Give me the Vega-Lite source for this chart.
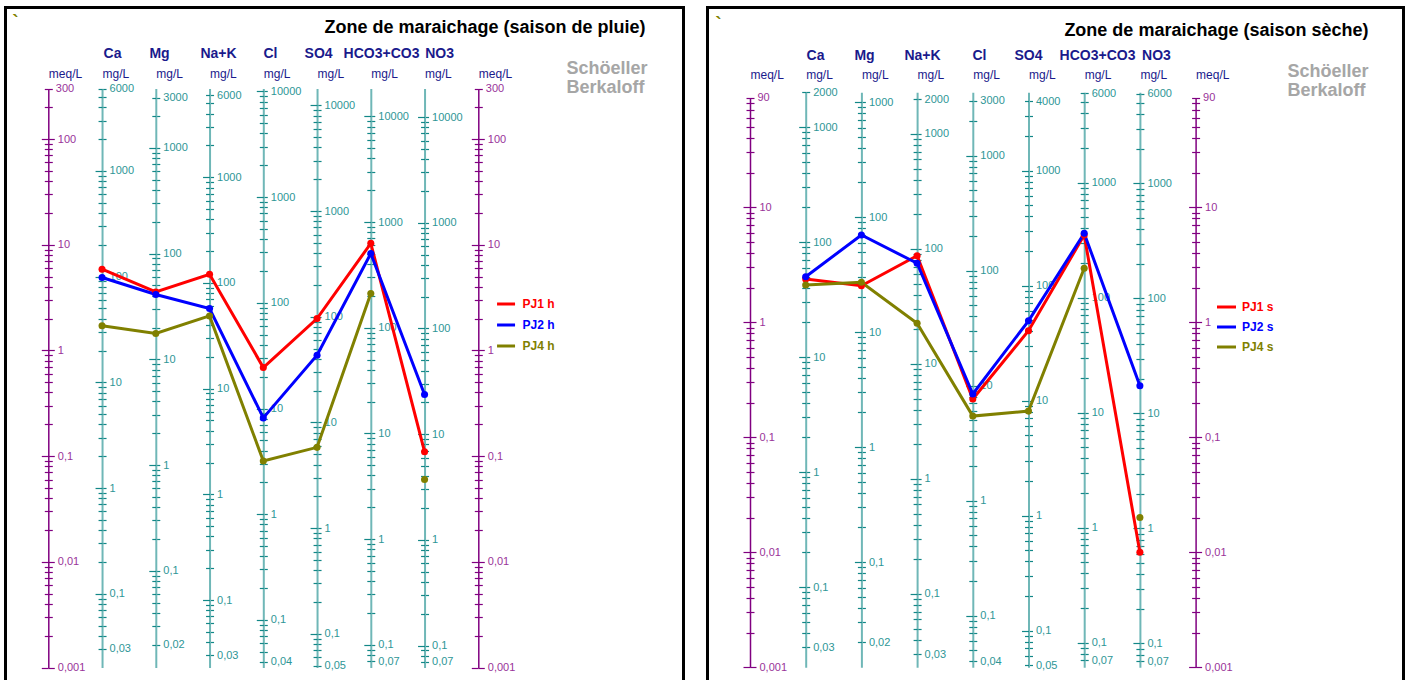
{
  "$schema": "https://vega.github.io/schema/vega-lite/v6.json",
  "width": 1408,
  "height": 680,
  "autosize": {"type": "none"},
  "padding": 0,
  "background": "white",
  "data": {"values": [{"k": 0}]},
  "datasets": {
    "pluie": [
      {"sample": "PJ1 h", "ion": "Ca", "meq": 5.87},
      {"sample": "PJ1 h", "ion": "Mg", "meq": 3.57},
      {"sample": "PJ1 h", "ion": "Na+K", "meq": 5.26},
      {"sample": "PJ1 h", "ion": "Cl", "meq": 0.689},
      {"sample": "PJ1 h", "ion": "SO4", "meq": 2.0},
      {"sample": "PJ1 h", "ion": "HCO3+CO3", "meq": 10.3},
      {"sample": "PJ1 h", "ion": "NO3", "meq": 0.11},
      {"sample": "PJ2 h", "ion": "Ca", "meq": 4.9},
      {"sample": "PJ2 h", "ion": "Mg", "meq": 3.38},
      {"sample": "PJ2 h", "ion": "Na+K", "meq": 2.49},
      {"sample": "PJ2 h", "ion": "Cl", "meq": 0.23},
      {"sample": "PJ2 h", "ion": "SO4", "meq": 0.9},
      {"sample": "PJ2 h", "ion": "HCO3+CO3", "meq": 8.26},
      {"sample": "PJ2 h", "ion": "NO3", "meq": 0.383},
      {"sample": "PJ4 h", "ion": "Ca", "meq": 1.71},
      {"sample": "PJ4 h", "ion": "Mg", "meq": 1.445},
      {"sample": "PJ4 h", "ion": "Na+K", "meq": 2.12},
      {"sample": "PJ4 h", "ion": "Cl", "meq": 0.09},
      {"sample": "PJ4 h", "ion": "SO4", "meq": 0.121},
      {"sample": "PJ4 h", "ion": "HCO3+CO3", "meq": 3.45},
      {"sample": "PJ4 h", "ion": "NO3", "meq": 0.06}
    ],
    "seche": [
      {"sample": "PJ1 s", "ion": "Ca", "meq": 2.38},
      {"sample": "PJ1 s", "ion": "Mg", "meq": 2.08},
      {"sample": "PJ1 s", "ion": "Na+K", "meq": 3.79},
      {"sample": "PJ1 s", "ion": "Cl", "meq": 0.215},
      {"sample": "PJ1 s", "ion": "SO4", "meq": 0.845},
      {"sample": "PJ1 s", "ion": "HCO3+CO3", "meq": 5.74},
      {"sample": "PJ1 s", "ion": "NO3", "meq": 0.01},
      {"sample": "PJ2 s", "ion": "Ca", "meq": 2.49},
      {"sample": "PJ2 s", "ion": "Mg", "meq": 5.74},
      {"sample": "PJ2 s", "ion": "Na+K", "meq": 3.26},
      {"sample": "PJ2 s", "ion": "Cl", "meq": 0.238},
      {"sample": "PJ2 s", "ion": "SO4", "meq": 1.03},
      {"sample": "PJ2 s", "ion": "HCO3+CO3", "meq": 5.94},
      {"sample": "PJ2 s", "ion": "NO3", "meq": 0.281},
      {"sample": "PJ4 s", "ion": "Ca", "meq": 2.11},
      {"sample": "PJ4 s", "ion": "Mg", "meq": 2.23},
      {"sample": "PJ4 s", "ion": "Na+K", "meq": 0.98},
      {"sample": "PJ4 s", "ion": "Cl", "meq": 0.153},
      {"sample": "PJ4 s", "ion": "SO4", "meq": 0.169},
      {"sample": "PJ4 s", "ion": "HCO3+CO3", "meq": 2.95},
      {"sample": "PJ4 s", "ion": "NO3", "meq": 0.0201}
    ]
  },
  "resolve": {"scale": {"x": "independent", "y": "independent", "color": "independent"}},
  "layer": [
    {"mark": {"type": "point", "opacity": 0}, "encoding": {
      "x": {"datum": 0, "type": "quantitative", "scale": {"domain": [0, 1], "range": [3.5, 684.5]}, "axis": {"orient": "top", "offset": -7, "domainColor": "#000000", "domainWidth": 3, "ticks": false, "labels": false, "title": "Zone de maraichage (saison de pluie)", "titleX": 645, "titleY": 20, "titleAlign": "right", "titleBaseline": "middle", "titleFontSize": 18, "titleFontWeight": "bold", "titleColor": "#000000"}},
      "y": {"datum": 0, "type": "quantitative", "scale": {"domain": [0, 1], "range": [5.5, 700]}, "axis": {"orient": "left", "offset": -5, "domainColor": "#000000", "domainWidth": 3, "ticks": false, "labels": false, "title": "`", "titleX": 10, "titleY": 22, "titleAlign": "center", "titleBaseline": "middle", "titleFontSize": 18, "titleFontWeight": "bold", "titleColor": "#808000"}}}},
    {"mark": {"type": "point", "opacity": 0}, "encoding": {
      "y": {"datum": 0, "type": "quantitative", "scale": {"domain": [0, 1], "range": [5.5, 700]}, "axis": {"orient": "left", "offset": -683, "domainColor": "#000000", "domainWidth": 3, "ticks": false, "labels": false, "title": ["Schöeller", "Berkaloff"], "titleX": -117, "titleY": 68, "titleAlign": "left", "titleBaseline": "middle", "titleLineHeight": 19, "titleFontSize": 18, "titleFontWeight": "bold", "titleColor": "#a6a6a6"}}}},
    {"mark": {"type": "point", "opacity": 0}, "encoding": {
      "x": {"datum": 0, "type": "quantitative", "scale": {"domain": [0, 1], "range": [705.5, 1404.5]}, "axis": {"orient": "top", "offset": -7, "domainColor": "#000000", "domainWidth": 3, "ticks": false, "labels": false, "title": "Zone de maraichage (saison sèche)", "titleX": 1368, "titleY": 23, "titleAlign": "right", "titleBaseline": "middle", "titleFontSize": 18, "titleFontWeight": "bold", "titleColor": "#000000"}},
      "y": {"datum": 0, "type": "quantitative", "scale": {"domain": [0, 1], "range": [5.5, 700]}, "axis": {"orient": "left", "offset": -707, "domainColor": "#000000", "domainWidth": 3, "ticks": false, "labels": false, "title": "`", "titleX": 11, "titleY": 24, "titleAlign": "center", "titleBaseline": "middle", "titleFontSize": 18, "titleFontWeight": "bold", "titleColor": "#808000"}}}},
    {"mark": {"type": "point", "opacity": 0}, "encoding": {
      "y": {"datum": 0, "type": "quantitative", "scale": {"domain": [0, 1], "range": [5.5, 700]}, "axis": {"orient": "left", "offset": -1403, "domainColor": "#000000", "domainWidth": 3, "ticks": false, "labels": false, "title": ["Schöeller", "Berkaloff"], "titleX": -116, "titleY": 71, "titleAlign": "left", "titleBaseline": "middle", "titleLineHeight": 19, "titleFontSize": 18, "titleFontWeight": "bold", "titleColor": "#a6a6a6"}}}},

    {"mark": {"type": "point", "opacity": 0}, "encoding": {"y": {"datum": 1, "type": "quantitative", "scale": {"type": "log", "domain": [0.001, 300], "range": [667.5, 88.6]}, "axis": {"orient": "right", "offset": -1359.7, "domainColor": "#800080", "domainWidth": 1.5, "tickColor": "#800080", "tickSize": {"condition": {"test": "abs(log(datum.value)/LN10 - round(log(datum.value)/LN10)) < 0.000001", "value": 6}, "value": 4}, "tickWidth": 1.2, "labelColor": "#993399", "labelPadding": 3, "labelExpr": "indexof([300,100,10,1,0.1,0.01,0.001], datum.value) >= 0 ? replace(toString(datum.value), '.', ',') : ''", "title": "meq/L", "titleX": 0, "titleY": 73, "titleAlign": "left", "titleColor": "#1a1a8c", "titleFontWeight": "normal"}}}},
    {"mark": {"type": "point", "opacity": 0}, "encoding": {"y": {"datum": 1, "type": "quantitative", "scale": {"type": "log", "domain": [0.001, 300], "range": [667.5, 88.6]}, "axis": {"orient": "left", "offset": -48.3, "domain": false, "labels": false, "tickColor": "#800080", "tickSize": {"condition": {"test": "abs(log(datum.value)/LN10 - round(log(datum.value)/LN10)) < 0.000001", "value": 7}, "value": 4}, "tickWidth": 1.2, "title": null}}}},
    {"mark": {"type": "point", "opacity": 0}, "encoding": {"y": {"datum": 1, "type": "quantitative", "scale": {"type": "log", "domain": [0.02004, 6012], "range": [667.5, 88.6]}, "axis": {"orient": "right", "offset": -1305.95, "domainColor": "#6fb7b7", "domainWidth": 2, "tickColor": "#128787", "tickSize": 4, "tickWidth": 1.2, "labelColor": "#2e9696", "labelPadding": 3, "labelExpr": "indexof([6000,1000,100,10,1,0.1,0.03], datum.value) >= 0 ? replace(toString(datum.value), '.', ',') : ''", "title": "mg/L", "titleX": 0, "titleY": 73, "titleAlign": "left", "titleColor": "#1a1a8c", "titleFontWeight": "normal"}}}},
    {"mark": {"type": "point", "opacity": 0}, "encoding": {"y": {"datum": 1, "type": "quantitative", "scale": {"type": "log", "domain": [0.02004, 6012], "range": [667.5, 88.6]}, "axis": {"orient": "left", "offset": -102.05, "domain": false, "labels": false, "tickColor": "#128787", "tickSize": {"condition": {"test": "abs(log(datum.value)/LN10 - round(log(datum.value)/LN10)) < 0.000001", "value": 7}, "value": 4}, "tickWidth": 1.2, "title": "Ca", "titleX": 10, "titleY": 53, "titleAlign": "center", "titleColor": "#1a1a8c", "titleFontWeight": "bold", "titleFontSize": 14}}}},
    {"mark": {"type": "point", "opacity": 0}, "encoding": {"y": {"datum": 1, "type": "quantitative", "scale": {"type": "log", "domain": [0.01215, 3645], "range": [667.5, 88.6]}, "axis": {"orient": "right", "offset": -1252.2, "domainColor": "#6fb7b7", "domainWidth": 2, "tickColor": "#128787", "tickSize": 4, "tickWidth": 1.2, "labelColor": "#2e9696", "labelPadding": 3, "labelExpr": "indexof([3000,1000,100,10,1,0.1,0.02], datum.value) >= 0 ? replace(toString(datum.value), '.', ',') : ''", "title": "mg/L", "titleX": 0, "titleY": 73, "titleAlign": "left", "titleColor": "#1a1a8c", "titleFontWeight": "normal"}}}},
    {"mark": {"type": "point", "opacity": 0}, "encoding": {"y": {"datum": 1, "type": "quantitative", "scale": {"type": "log", "domain": [0.01215, 3645], "range": [667.5, 88.6]}, "axis": {"orient": "left", "offset": -155.8, "domain": false, "labels": false, "tickColor": "#128787", "tickSize": {"condition": {"test": "abs(log(datum.value)/LN10 - round(log(datum.value)/LN10)) < 0.000001", "value": 7}, "value": 4}, "tickWidth": 1.2, "title": "Mg", "titleX": 3.2, "titleY": 53, "titleAlign": "center", "titleColor": "#1a1a8c", "titleFontWeight": "bold", "titleFontSize": 14}}}},
    {"mark": {"type": "point", "opacity": 0}, "encoding": {"y": {"datum": 1, "type": "quantitative", "scale": {"type": "log", "domain": [0.023, 6900], "range": [667.5, 88.6]}, "axis": {"orient": "right", "offset": -1198.45, "domainColor": "#6fb7b7", "domainWidth": 2, "tickColor": "#128787", "tickSize": 4, "tickWidth": 1.2, "labelColor": "#2e9696", "labelPadding": 3, "labelExpr": "indexof([6000,1000,100,10,1,0.1,0.03], datum.value) >= 0 ? replace(toString(datum.value), '.', ',') : ''", "title": "mg/L", "titleX": 0, "titleY": 73, "titleAlign": "left", "titleColor": "#1a1a8c", "titleFontWeight": "normal"}}}},
    {"mark": {"type": "point", "opacity": 0}, "encoding": {"y": {"datum": 1, "type": "quantitative", "scale": {"type": "log", "domain": [0.023, 6900], "range": [667.5, 88.6]}, "axis": {"orient": "left", "offset": -209.55, "domain": false, "labels": false, "tickColor": "#128787", "tickSize": {"condition": {"test": "abs(log(datum.value)/LN10 - round(log(datum.value)/LN10)) < 0.000001", "value": 7}, "value": 4}, "tickWidth": 1.2, "title": "Na+K", "titleX": 8.5, "titleY": 53, "titleAlign": "center", "titleColor": "#1a1a8c", "titleFontWeight": "bold", "titleFontSize": 14}}}},
    {"mark": {"type": "point", "opacity": 0}, "encoding": {"y": {"datum": 1, "type": "quantitative", "scale": {"type": "log", "domain": [0.03545, 10635], "range": [667.5, 88.6]}, "axis": {"orient": "right", "offset": -1144.7, "domainColor": "#6fb7b7", "domainWidth": 2, "tickColor": "#128787", "tickSize": 4, "tickWidth": 1.2, "labelColor": "#2e9696", "labelPadding": 3, "labelExpr": "indexof([10000,1000,100,10,1,0.1,0.04], datum.value) >= 0 ? replace(toString(datum.value), '.', ',') : ''", "title": "mg/L", "titleX": 0, "titleY": 73, "titleAlign": "left", "titleColor": "#1a1a8c", "titleFontWeight": "normal"}}}},
    {"mark": {"type": "point", "opacity": 0}, "encoding": {"y": {"datum": 1, "type": "quantitative", "scale": {"type": "log", "domain": [0.03545, 10635], "range": [667.5, 88.6]}, "axis": {"orient": "left", "offset": -263.3, "domain": false, "labels": false, "tickColor": "#128787", "tickSize": {"condition": {"test": "abs(log(datum.value)/LN10 - round(log(datum.value)/LN10)) < 0.000001", "value": 7}, "value": 4}, "tickWidth": 1.2, "title": "Cl", "titleX": 6.7, "titleY": 53, "titleAlign": "center", "titleColor": "#1a1a8c", "titleFontWeight": "bold", "titleFontSize": 14}}}},
    {"mark": {"type": "point", "opacity": 0}, "encoding": {"y": {"datum": 1, "type": "quantitative", "scale": {"type": "log", "domain": [0.04803, 14409], "range": [667.5, 88.6]}, "axis": {"orient": "right", "offset": -1090.95, "domainColor": "#6fb7b7", "domainWidth": 2, "tickColor": "#128787", "tickSize": 4, "tickWidth": 1.2, "labelColor": "#2e9696", "labelPadding": 3, "labelExpr": "indexof([10000,1000,100,10,1,0.1,0.05], datum.value) >= 0 ? replace(toString(datum.value), '.', ',') : ''", "title": "mg/L", "titleX": 0, "titleY": 73, "titleAlign": "left", "titleColor": "#1a1a8c", "titleFontWeight": "normal"}}}},
    {"mark": {"type": "point", "opacity": 0}, "encoding": {"y": {"datum": 1, "type": "quantitative", "scale": {"type": "log", "domain": [0.04803, 14409], "range": [667.5, 88.6]}, "axis": {"orient": "left", "offset": -317.05, "domain": false, "labels": false, "tickColor": "#128787", "tickSize": {"condition": {"test": "abs(log(datum.value)/LN10 - round(log(datum.value)/LN10)) < 0.000001", "value": 7}, "value": 4}, "tickWidth": 1.2, "title": "SO4", "titleX": 1, "titleY": 53, "titleAlign": "center", "titleColor": "#1a1a8c", "titleFontWeight": "bold", "titleFontSize": 14}}}},
    {"mark": {"type": "point", "opacity": 0}, "encoding": {"y": {"datum": 1, "type": "quantitative", "scale": {"type": "log", "domain": [0.06102, 18306], "range": [667.5, 88.6]}, "axis": {"orient": "right", "offset": -1037.2, "domainColor": "#6fb7b7", "domainWidth": 2, "tickColor": "#128787", "tickSize": 4, "tickWidth": 1.2, "labelColor": "#2e9696", "labelPadding": 3, "labelExpr": "indexof([10000,1000,100,10,1,0.1,0.07], datum.value) >= 0 ? replace(toString(datum.value), '.', ',') : ''", "title": "mg/L", "titleX": 0, "titleY": 73, "titleAlign": "left", "titleColor": "#1a1a8c", "titleFontWeight": "normal"}}}},
    {"mark": {"type": "point", "opacity": 0}, "encoding": {"y": {"datum": 1, "type": "quantitative", "scale": {"type": "log", "domain": [0.06102, 18306], "range": [667.5, 88.6]}, "axis": {"orient": "left", "offset": -370.8, "domain": false, "labels": false, "tickColor": "#128787", "tickSize": {"condition": {"test": "abs(log(datum.value)/LN10 - round(log(datum.value)/LN10)) < 0.000001", "value": 7}, "value": 4}, "tickWidth": 1.2, "title": "HCO3+CO3", "titleX": 10.2, "titleY": 53, "titleAlign": "center", "titleColor": "#1a1a8c", "titleFontWeight": "bold", "titleFontSize": 14}}}},
    {"mark": {"type": "point", "opacity": 0}, "encoding": {"y": {"datum": 1, "type": "quantitative", "scale": {"type": "log", "domain": [0.062, 18600], "range": [667.5, 88.6]}, "axis": {"orient": "right", "offset": -983.45, "domainColor": "#6fb7b7", "domainWidth": 2, "tickColor": "#128787", "tickSize": 4, "tickWidth": 1.2, "labelColor": "#2e9696", "labelPadding": 3, "labelExpr": "indexof([10000,1000,100,10,1,0.1,0.07], datum.value) >= 0 ? replace(toString(datum.value), '.', ',') : ''", "title": "mg/L", "titleX": 0, "titleY": 73, "titleAlign": "left", "titleColor": "#1a1a8c", "titleFontWeight": "normal"}}}},
    {"mark": {"type": "point", "opacity": 0}, "encoding": {"y": {"datum": 1, "type": "quantitative", "scale": {"type": "log", "domain": [0.062, 18600], "range": [667.5, 88.6]}, "axis": {"orient": "left", "offset": -424.55, "domain": false, "labels": false, "tickColor": "#128787", "tickSize": {"condition": {"test": "abs(log(datum.value)/LN10 - round(log(datum.value)/LN10)) < 0.000001", "value": 7}, "value": 4}, "tickWidth": 1.2, "title": "NO3", "titleX": 14.5, "titleY": 53, "titleAlign": "center", "titleColor": "#1a1a8c", "titleFontWeight": "bold", "titleFontSize": 14}}}},
    {"mark": {"type": "point", "opacity": 0}, "encoding": {"y": {"datum": 1, "type": "quantitative", "scale": {"type": "log", "domain": [0.001, 300], "range": [667.5, 88.6]}, "axis": {"orient": "right", "offset": -929.7, "domainColor": "#800080", "domainWidth": 1.5, "tickColor": "#800080", "tickSize": {"condition": {"test": "abs(log(datum.value)/LN10 - round(log(datum.value)/LN10)) < 0.000001", "value": 6}, "value": 4}, "tickWidth": 1.2, "labelColor": "#993399", "labelPadding": 3, "labelExpr": "indexof([300,100,10,1,0.1,0.01,0.001], datum.value) >= 0 ? replace(toString(datum.value), '.', ',') : ''", "title": "meq/L", "titleX": 0, "titleY": 73, "titleAlign": "left", "titleColor": "#1a1a8c", "titleFontWeight": "normal"}}}},
    {"mark": {"type": "point", "opacity": 0}, "encoding": {"y": {"datum": 1, "type": "quantitative", "scale": {"type": "log", "domain": [0.001, 300], "range": [667.5, 88.6]}, "axis": {"orient": "left", "offset": -478.3, "domain": false, "labels": false, "tickColor": "#800080", "tickSize": {"condition": {"test": "abs(log(datum.value)/LN10 - round(log(datum.value)/LN10)) < 0.000001", "value": 7}, "value": 4}, "tickWidth": 1.2, "title": null}}}},

    {"mark": {"type": "point", "opacity": 0}, "encoding": {"y": {"datum": 1, "type": "quantitative", "scale": {"type": "log", "domain": [0.001, 90], "range": [667.3, 97.6]}, "axis": {"orient": "right", "offset": -658, "domainColor": "#800080", "domainWidth": 1.5, "tickColor": "#800080", "tickSize": {"condition": {"test": "abs(log(datum.value)/LN10 - round(log(datum.value)/LN10)) < 0.000001", "value": 6}, "value": 4}, "tickWidth": 1.2, "labelColor": "#993399", "labelPadding": 3, "labelExpr": "indexof([90,10,1,0.1,0.01,0.001], datum.value) >= 0 ? replace(toString(datum.value), '.', ',') : ''", "title": "meq/L", "titleX": 0, "titleY": 74, "titleAlign": "left", "titleColor": "#1a1a8c", "titleFontWeight": "normal"}}}},
    {"mark": {"type": "point", "opacity": 0}, "encoding": {"y": {"datum": 1, "type": "quantitative", "scale": {"type": "log", "domain": [0.001, 90], "range": [667.3, 97.6]}, "axis": {"orient": "left", "offset": -750, "domain": false, "labels": false, "tickColor": "#800080", "tickSize": {"condition": {"test": "abs(log(datum.value)/LN10 - round(log(datum.value)/LN10)) < 0.000001", "value": 7}, "value": 4}, "tickWidth": 1.2, "title": null}}}},
    {"mark": {"type": "point", "opacity": 0}, "encoding": {"y": {"datum": 1, "type": "quantitative", "scale": {"type": "log", "domain": [0.02004, 2004], "range": [667.3, 92.3]}, "axis": {"orient": "right", "offset": -602.3, "domainColor": "#6fb7b7", "domainWidth": 2, "tickColor": "#128787", "tickSize": 4, "tickWidth": 1.2, "labelColor": "#2e9696", "labelPadding": 3, "labelExpr": "indexof([2000,1000,100,10,1,0.1,0.03], datum.value) >= 0 ? replace(toString(datum.value), '.', ',') : ''", "title": "mg/L", "titleX": 0, "titleY": 74, "titleAlign": "left", "titleColor": "#1a1a8c", "titleFontWeight": "normal"}}}},
    {"mark": {"type": "point", "opacity": 0}, "encoding": {"y": {"datum": 1, "type": "quantitative", "scale": {"type": "log", "domain": [0.02004, 2004], "range": [667.3, 92.3]}, "axis": {"orient": "left", "offset": -805.7, "domain": false, "labels": false, "tickColor": "#128787", "tickSize": {"condition": {"test": "abs(log(datum.value)/LN10 - round(log(datum.value)/LN10)) < 0.000001", "value": 7}, "value": 4}, "tickWidth": 1.2, "title": "Ca", "titleX": 9.3, "titleY": 55, "titleAlign": "center", "titleColor": "#1a1a8c", "titleFontWeight": "bold", "titleFontSize": 14}}}},
    {"mark": {"type": "point", "opacity": 0}, "encoding": {"y": {"datum": 1, "type": "quantitative", "scale": {"type": "log", "domain": [0.01215, 1215], "range": [667.3, 92.3]}, "axis": {"orient": "right", "offset": -546.6, "domainColor": "#6fb7b7", "domainWidth": 2, "tickColor": "#128787", "tickSize": 4, "tickWidth": 1.2, "labelColor": "#2e9696", "labelPadding": 3, "labelExpr": "indexof([1000,100,10,1,0.1,0.02], datum.value) >= 0 ? replace(toString(datum.value), '.', ',') : ''", "title": "mg/L", "titleX": 0, "titleY": 74, "titleAlign": "left", "titleColor": "#1a1a8c", "titleFontWeight": "normal"}}}},
    {"mark": {"type": "point", "opacity": 0}, "encoding": {"y": {"datum": 1, "type": "quantitative", "scale": {"type": "log", "domain": [0.01215, 1215], "range": [667.3, 92.3]}, "axis": {"orient": "left", "offset": -861.4, "domain": false, "labels": false, "tickColor": "#128787", "tickSize": {"condition": {"test": "abs(log(datum.value)/LN10 - round(log(datum.value)/LN10)) < 0.000001", "value": 7}, "value": 4}, "tickWidth": 1.2, "title": "Mg", "titleX": 2.6, "titleY": 55, "titleAlign": "center", "titleColor": "#1a1a8c", "titleFontWeight": "bold", "titleFontSize": 14}}}},
    {"mark": {"type": "point", "opacity": 0}, "encoding": {"y": {"datum": 1, "type": "quantitative", "scale": {"type": "log", "domain": [0.023, 2300], "range": [667.3, 92.3]}, "axis": {"orient": "right", "offset": -490.9, "domainColor": "#6fb7b7", "domainWidth": 2, "tickColor": "#128787", "tickSize": 4, "tickWidth": 1.2, "labelColor": "#2e9696", "labelPadding": 3, "labelExpr": "indexof([2000,1000,100,10,1,0.1,0.03], datum.value) >= 0 ? replace(toString(datum.value), '.', ',') : ''", "title": "mg/L", "titleX": 0, "titleY": 74, "titleAlign": "left", "titleColor": "#1a1a8c", "titleFontWeight": "normal"}}}},
    {"mark": {"type": "point", "opacity": 0}, "encoding": {"y": {"datum": 1, "type": "quantitative", "scale": {"type": "log", "domain": [0.023, 2300], "range": [667.3, 92.3]}, "axis": {"orient": "left", "offset": -917.1, "domain": false, "labels": false, "tickColor": "#128787", "tickSize": {"condition": {"test": "abs(log(datum.value)/LN10 - round(log(datum.value)/LN10)) < 0.000001", "value": 7}, "value": 4}, "tickWidth": 1.2, "title": "Na+K", "titleX": 4.9, "titleY": 55, "titleAlign": "center", "titleColor": "#1a1a8c", "titleFontWeight": "bold", "titleFontSize": 14}}}},
    {"mark": {"type": "point", "opacity": 0}, "encoding": {"y": {"datum": 1, "type": "quantitative", "scale": {"type": "log", "domain": [0.03545, 3545], "range": [667.3, 92.3]}, "axis": {"orient": "right", "offset": -435.2, "domainColor": "#6fb7b7", "domainWidth": 2, "tickColor": "#128787", "tickSize": 4, "tickWidth": 1.2, "labelColor": "#2e9696", "labelPadding": 3, "labelExpr": "indexof([3000,1000,100,10,1,0.1,0.04], datum.value) >= 0 ? replace(toString(datum.value), '.', ',') : ''", "title": "mg/L", "titleX": 0, "titleY": 74, "titleAlign": "left", "titleColor": "#1a1a8c", "titleFontWeight": "normal"}}}},
    {"mark": {"type": "point", "opacity": 0}, "encoding": {"y": {"datum": 1, "type": "quantitative", "scale": {"type": "log", "domain": [0.03545, 3545], "range": [667.3, 92.3]}, "axis": {"orient": "left", "offset": -972.8, "domain": false, "labels": false, "tickColor": "#128787", "tickSize": {"condition": {"test": "abs(log(datum.value)/LN10 - round(log(datum.value)/LN10)) < 0.000001", "value": 7}, "value": 4}, "tickWidth": 1.2, "title": "Cl", "titleX": 6.2, "titleY": 55, "titleAlign": "center", "titleColor": "#1a1a8c", "titleFontWeight": "bold", "titleFontSize": 14}}}},
    {"mark": {"type": "point", "opacity": 0}, "encoding": {"y": {"datum": 1, "type": "quantitative", "scale": {"type": "log", "domain": [0.04803, 4803], "range": [667.3, 92.3]}, "axis": {"orient": "right", "offset": -379.5, "domainColor": "#6fb7b7", "domainWidth": 2, "tickColor": "#128787", "tickSize": 4, "tickWidth": 1.2, "labelColor": "#2e9696", "labelPadding": 3, "labelExpr": "indexof([4000,1000,100,10,1,0.1,0.05], datum.value) >= 0 ? replace(toString(datum.value), '.', ',') : ''", "title": "mg/L", "titleX": 0, "titleY": 74, "titleAlign": "left", "titleColor": "#1a1a8c", "titleFontWeight": "normal"}}}},
    {"mark": {"type": "point", "opacity": 0}, "encoding": {"y": {"datum": 1, "type": "quantitative", "scale": {"type": "log", "domain": [0.04803, 4803], "range": [667.3, 92.3]}, "axis": {"orient": "left", "offset": -1028.5, "domain": false, "labels": false, "tickColor": "#128787", "tickSize": {"condition": {"test": "abs(log(datum.value)/LN10 - round(log(datum.value)/LN10)) < 0.000001", "value": 7}, "value": 4}, "tickWidth": 1.2, "title": "SO4", "titleX": -0.5, "titleY": 55, "titleAlign": "center", "titleColor": "#1a1a8c", "titleFontWeight": "bold", "titleFontSize": 14}}}},
    {"mark": {"type": "point", "opacity": 0}, "encoding": {"y": {"datum": 1, "type": "quantitative", "scale": {"type": "log", "domain": [0.06102, 6102], "range": [667.3, 92.3]}, "axis": {"orient": "right", "offset": -323.8, "domainColor": "#6fb7b7", "domainWidth": 2, "tickColor": "#128787", "tickSize": 4, "tickWidth": 1.2, "labelColor": "#2e9696", "labelPadding": 3, "labelExpr": "indexof([6000,1000,100,10,1,0.1,0.07], datum.value) >= 0 ? replace(toString(datum.value), '.', ',') : ''", "title": "mg/L", "titleX": 0, "titleY": 74, "titleAlign": "left", "titleColor": "#1a1a8c", "titleFontWeight": "normal"}}}},
    {"mark": {"type": "point", "opacity": 0}, "encoding": {"y": {"datum": 1, "type": "quantitative", "scale": {"type": "log", "domain": [0.06102, 6102], "range": [667.3, 92.3]}, "axis": {"orient": "left", "offset": -1084.2, "domain": false, "labels": false, "tickColor": "#128787", "tickSize": {"condition": {"test": "abs(log(datum.value)/LN10 - round(log(datum.value)/LN10)) < 0.000001", "value": 7}, "value": 4}, "tickWidth": 1.2, "title": "HCO3+CO3", "titleX": 12.8, "titleY": 55, "titleAlign": "center", "titleColor": "#1a1a8c", "titleFontWeight": "bold", "titleFontSize": 14}}}},
    {"mark": {"type": "point", "opacity": 0}, "encoding": {"y": {"datum": 1, "type": "quantitative", "scale": {"type": "log", "domain": [0.062, 6200], "range": [667.3, 92.3]}, "axis": {"orient": "right", "offset": -268.1, "domainColor": "#6fb7b7", "domainWidth": 2, "tickColor": "#128787", "tickSize": 4, "tickWidth": 1.2, "labelColor": "#2e9696", "labelPadding": 3, "labelExpr": "indexof([6000,1000,100,10,1,0.1,0.07], datum.value) >= 0 ? replace(toString(datum.value), '.', ',') : ''", "title": "mg/L", "titleX": 0, "titleY": 74, "titleAlign": "left", "titleColor": "#1a1a8c", "titleFontWeight": "normal"}}}},
    {"mark": {"type": "point", "opacity": 0}, "encoding": {"y": {"datum": 1, "type": "quantitative", "scale": {"type": "log", "domain": [0.062, 6200], "range": [667.3, 92.3]}, "axis": {"orient": "left", "offset": -1139.9, "domain": false, "labels": false, "tickColor": "#128787", "tickSize": {"condition": {"test": "abs(log(datum.value)/LN10 - round(log(datum.value)/LN10)) < 0.000001", "value": 7}, "value": 4}, "tickWidth": 1.2, "title": "NO3", "titleX": 16.1, "titleY": 55, "titleAlign": "center", "titleColor": "#1a1a8c", "titleFontWeight": "bold", "titleFontSize": 14}}}},
    {"mark": {"type": "point", "opacity": 0}, "encoding": {"y": {"datum": 1, "type": "quantitative", "scale": {"type": "log", "domain": [0.001, 90], "range": [667.3, 97.6]}, "axis": {"orient": "right", "offset": -212.4, "domainColor": "#800080", "domainWidth": 1.5, "tickColor": "#800080", "tickSize": {"condition": {"test": "abs(log(datum.value)/LN10 - round(log(datum.value)/LN10)) < 0.000001", "value": 6}, "value": 4}, "tickWidth": 1.2, "labelColor": "#993399", "labelPadding": 3, "labelExpr": "indexof([90,10,1,0.1,0.01,0.001], datum.value) >= 0 ? replace(toString(datum.value), '.', ',') : ''", "title": "meq/L", "titleX": 0, "titleY": 74, "titleAlign": "left", "titleColor": "#1a1a8c", "titleFontWeight": "normal"}}}},
    {"mark": {"type": "point", "opacity": 0}, "encoding": {"y": {"datum": 1, "type": "quantitative", "scale": {"type": "log", "domain": [0.001, 90], "range": [667.3, 97.6]}, "axis": {"orient": "left", "offset": -1195.6, "domain": false, "labels": false, "tickColor": "#800080", "tickSize": {"condition": {"test": "abs(log(datum.value)/LN10 - round(log(datum.value)/LN10)) < 0.000001", "value": 7}, "value": 4}, "tickWidth": 1.2, "title": null}}}},

    {
      "data": {"name": "pluie"},
      "transform": [{"filter": "!(datum.sample === 'PJ4 h' && datum.ion === 'NO3')"}],
      "mark": {"type": "line", "strokeWidth": 3},
      "encoding": {
        "x": {"field": "ion", "type": "nominal", "scale": {"type": "point", "domain": ["meqL", "Ca", "Mg", "Na+K", "Cl", "SO4", "HCO3+CO3", "NO3", "meqR", "leg"], "range": [48.3, 532.05], "padding": 0}, "axis": null},
        "y": {"field": "meq", "type": "quantitative", "scale": {"type": "log", "domain": [0.001, 300], "range": [667.5, 88.6]}, "axis": null},
        "color": {"field": "sample", "type": "nominal", "scale": {"domain": ["PJ1 h", "PJ2 h", "PJ4 h"], "range": ["#ff0000", "#0000ff", "#808000"]}, "legend": null},
        "order": {"value": null}
      }
    },
    {
      "data": {"name": "pluie"},
      "mark": {"type": "point", "filled": true, "size": 50, "opacity": 1},
      "encoding": {
        "x": {"field": "ion", "type": "nominal", "scale": {"type": "point", "domain": ["meqL", "Ca", "Mg", "Na+K", "Cl", "SO4", "HCO3+CO3", "NO3", "meqR", "leg"], "range": [48.3, 532.05], "padding": 0}, "axis": null},
        "y": {"field": "meq", "type": "quantitative", "scale": {"type": "log", "domain": [0.001, 300], "range": [667.5, 88.6]}, "axis": null},
        "color": {"field": "sample", "type": "nominal", "scale": {"domain": ["PJ1 h", "PJ2 h", "PJ4 h"], "range": ["#ff0000", "#0000ff", "#808000"]}, "legend": null}
      }
    },
    {
      "data": {"name": "pluie"},
      "transform": [{"aggregate": [{"op": "count", "as": "n"}], "groupby": ["sample"]}],
      "mark": {"type": "point", "shape": "M-1,0L1,0", "size": 324, "strokeWidth": 3, "filled": false, "opacity": 1, "xOffset": -26},
      "encoding": {
        "x": {"datum": "leg", "type": "nominal", "scale": {"type": "point", "domain": ["meqL", "Ca", "Mg", "Na+K", "Cl", "SO4", "HCO3+CO3", "NO3", "meqR", "leg"], "range": [48.3, 532.05], "padding": 0}, "axis": null},
        "y": {"field": "sample", "type": "nominal", "scale": {"type": "point", "domain": ["PJ1 h", "PJ2 h", "PJ4 h"], "range": [304, 346], "padding": 0}, "axis": null},
        "color": {"field": "sample", "type": "nominal", "scale": {"domain": ["PJ1 h", "PJ2 h", "PJ4 h"], "range": ["#ff0000", "#0000ff", "#808000"]}, "legend": null}
      }
    },
    {
      "data": {"name": "pluie"},
      "transform": [{"aggregate": [{"op": "count", "as": "n"}], "groupby": ["sample"]}],
      "mark": {"type": "text", "align": "left", "baseline": "middle", "dx": -9.5, "fontSize": 12, "fontWeight": "bold", "font": "Liberation Sans"},
      "encoding": {
        "x": {"datum": "leg", "type": "nominal", "scale": {"type": "point", "domain": ["meqL", "Ca", "Mg", "Na+K", "Cl", "SO4", "HCO3+CO3", "NO3", "meqR", "leg"], "range": [48.3, 532.05], "padding": 0}, "axis": null},
        "y": {"field": "sample", "type": "nominal", "scale": {"type": "point", "domain": ["PJ1 h", "PJ2 h", "PJ4 h"], "range": [304, 346], "padding": 0}, "axis": null},
        "text": {"field": "sample", "type": "nominal"},
        "color": {"field": "sample", "type": "nominal", "scale": {"domain": ["PJ1 h", "PJ2 h", "PJ4 h"], "range": ["#ff0000", "#0000ff", "#808000"]}, "legend": null}
      }
    },

    {
      "data": {"name": "seche"},
      "transform": [{"filter": "!(datum.sample === 'PJ4 s' && datum.ion === 'NO3')"}],
      "mark": {"type": "line", "strokeWidth": 3},
      "encoding": {
        "x": {"field": "ion", "type": "nominal", "scale": {"type": "point", "domain": ["meqL", "Ca", "Mg", "Na+K", "Cl", "SO4", "HCO3+CO3", "NO3", "meqR", "leg"], "range": [750, 1251.3], "padding": 0}, "axis": null},
        "y": {"field": "meq", "type": "quantitative", "scale": {"type": "log", "domain": [0.001, 100], "range": [667.3, 92.3]}, "axis": null},
        "color": {"field": "sample", "type": "nominal", "scale": {"domain": ["PJ1 s", "PJ2 s", "PJ4 s"], "range": ["#ff0000", "#0000ff", "#808000"]}, "legend": null},
        "order": {"value": null}
      }
    },
    {
      "data": {"name": "seche"},
      "mark": {"type": "point", "filled": true, "size": 50, "opacity": 1},
      "encoding": {
        "x": {"field": "ion", "type": "nominal", "scale": {"type": "point", "domain": ["meqL", "Ca", "Mg", "Na+K", "Cl", "SO4", "HCO3+CO3", "NO3", "meqR", "leg"], "range": [750, 1251.3], "padding": 0}, "axis": null},
        "y": {"field": "meq", "type": "quantitative", "scale": {"type": "log", "domain": [0.001, 100], "range": [667.3, 92.3]}, "axis": null},
        "color": {"field": "sample", "type": "nominal", "scale": {"domain": ["PJ1 s", "PJ2 s", "PJ4 s"], "range": ["#ff0000", "#0000ff", "#808000"]}, "legend": null}
      }
    },
    {
      "data": {"name": "seche"},
      "transform": [{"aggregate": [{"op": "count", "as": "n"}], "groupby": ["sample"]}],
      "mark": {"type": "point", "shape": "M-1,0L1,0", "size": 361, "strokeWidth": 3, "filled": false, "opacity": 1, "xOffset": -24.8},
      "encoding": {
        "x": {"datum": "leg", "type": "nominal", "scale": {"type": "point", "domain": ["meqL", "Ca", "Mg", "Na+K", "Cl", "SO4", "HCO3+CO3", "NO3", "meqR", "leg"], "range": [750, 1251.3], "padding": 0}, "axis": null},
        "y": {"field": "sample", "type": "nominal", "scale": {"type": "point", "domain": ["PJ1 s", "PJ2 s", "PJ4 s"], "range": [307, 347], "padding": 0}, "axis": null},
        "color": {"field": "sample", "type": "nominal", "scale": {"domain": ["PJ1 s", "PJ2 s", "PJ4 s"], "range": ["#ff0000", "#0000ff", "#808000"]}, "legend": null}
      }
    },
    {
      "data": {"name": "seche"},
      "transform": [{"aggregate": [{"op": "count", "as": "n"}], "groupby": ["sample"]}],
      "mark": {"type": "text", "align": "left", "baseline": "middle", "dx": -9.3, "fontSize": 12, "fontWeight": "bold", "font": "Liberation Sans"},
      "encoding": {
        "x": {"datum": "leg", "type": "nominal", "scale": {"type": "point", "domain": ["meqL", "Ca", "Mg", "Na+K", "Cl", "SO4", "HCO3+CO3", "NO3", "meqR", "leg"], "range": [750, 1251.3], "padding": 0}, "axis": null},
        "y": {"field": "sample", "type": "nominal", "scale": {"type": "point", "domain": ["PJ1 s", "PJ2 s", "PJ4 s"], "range": [307, 347], "padding": 0}, "axis": null},
        "text": {"field": "sample", "type": "nominal"},
        "color": {"field": "sample", "type": "nominal", "scale": {"domain": ["PJ1 s", "PJ2 s", "PJ4 s"], "range": ["#ff0000", "#0000ff", "#808000"]}, "legend": null}
      }
    }
  ],
  "config": {
    "font": "Liberation Sans",
    "view": {"stroke": null},
    "axis": {
      "grid": false,
      "labelOverlap": false,
      "labelFlush": false,
      "labelBound": false,
      "labelFont": "Liberation Sans",
      "labelFontSize": 11,
      "titleFont": "Liberation Sans",
      "titleFontSize": 12,
      "titleAngle": 0,
      "titleBaseline": "middle",
      "titlePadding": 0
    }
  }
}
